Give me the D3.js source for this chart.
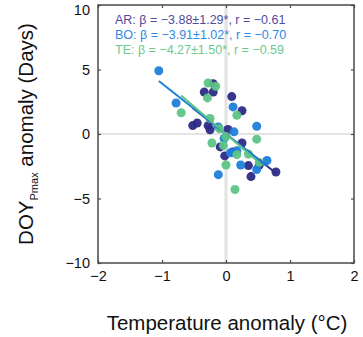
<!DOCTYPE html>
<html>
<head>
<meta charset="utf-8">
<script src="https://cdn.jsdelivr.net/npm/d3@7"></script>
<style>
	body { margin: 0; background: #fff; }
	text { font-family: "Liberation Sans", Arial, sans-serif; }
</style>
</head>
<body>
<svg></svg>
<script>
// series: [temperature anomaly, DOY anomaly]
const arPoints = [[-0.52, 0.65], [-0.45, 0.85], [-0.34, 3.25], [-0.2, 3.25], [-0.2, 3.9], [-0.28, 0.65],
	[-0.25, 0.33], [0.03, 0.35], [0.09, 2.9], [0.25, 1.8], [0.25, -0.7], [-0.02, -1.7], [-0.09, -1.0],
	[0.35, -2.45], [0.52, -2.4], [0.39, -3.3], [0.78, -2.95], [0.1, -1.4]];
const boPoints = [[-1.05, 4.9], [-0.78, 2.4], [0.11, 2.1], [0.125, 0.17], [0.48, 0.6], [-0.03, -0.35],
	[0.07, -1.45], [0.23, -2.4], [0.48, -2.75], [0.64, -2.05], [-0.12, -3.15], [-0.12, 0.55], [0.17, -1.3]];
const tePoints = [[-0.28, 3.95], [-0.16, 3.7], [-0.29, 2.8], [-0.7, 1.65], [-0.25, 1.2], [0.17, 1.45],
	[-0.22, -0.7], [0.48, -0.4], [0.0, -2.4], [0.17, -1.6], [0.35, -1.55], [0.52, -2.2], [0.14, -4.3],
	[-0.04, -0.9], [0.0, -0.2], [-0.1, 0.4]];

const seriesNames = ["AR", "BO", "TE"];
const slopes = [-3.88, -3.91, -4.27];
const slopeErr = ["1.29", "1.02", "1.50"];
const rValues = ["0.61", "0.70", "0.59"];
const colors = ["#2c2a86", "#1d80d9", "#5ec486"];
const textColors = ["#4d4b9c", "#2f88e0", "#6cc98c"];

const xTicks = [-2, -1, 0, 1, 2];
const yTicks = [-10, -5, 0, 5, 10];

const size = { w: 363, h: 337 };
const box = { l: 98, r: 354, t: 5, b: 263 };

const svg = d3.select("svg").attr("width", size.w).attr("height", size.h);

const x = d3.scaleLinear().domain([-2, 2]).range([box.l, box.r]);
const y = d3.scaleLinear().domain([-10, 10]).range([box.b, box.t]);

// zero lines
svg.append("line")
	.attr("x1", x(0)).attr("x2", x(0)).attr("y1", box.t).attr("y2", box.b)
	.attr("stroke", "#e2e2e2").attr("stroke-width", 3);
svg.append("line")
	.attr("x1", box.l).attr("x2", box.r).attr("y1", y(0)).attr("y2", y(0))
	.attr("stroke", "#dadada").attr("stroke-width", 1.5);

// points
const allSeries = [arPoints, boPoints, tePoints];
allSeries.forEach((pts, i) => {
	svg.append("g")
		.selectAll("circle")
		.data(pts)
		.join("circle")
		.attr("cx", (d) => x(d[0]))
		.attr("cy", (d) => y(d[1]))
		.attr("r", 4.5)
		.attr("fill", colors[i])
		.attr("fill-opacity", 0.95);
});

// regression lines (slope from label, through origin) over each series range
allSeries.forEach((pts, i) => {
	const ext = d3.extent(pts, (d) => d[0]);
	svg.append("line")
		.attr("x1", x(ext[0])).attr("y1", y(slopes[i] * ext[0]))
		.attr("x2", x(ext[1])).attr("y2", y(slopes[i] * ext[1]))
		.attr("stroke", colors[i]).attr("stroke-width", 2);
});

// axes box
svg.append("rect")
	.attr("x", box.l).attr("y", box.t)
	.attr("width", box.r - box.l).attr("height", box.b - box.t)
	.attr("fill", "none").attr("stroke", "#4a4a4a").attr("stroke-width", 1.5);

const fmt = (d) => (d < 0 ? "\u2212" + Math.abs(d) : d);
const xAxis = d3.axisBottom(x).tickValues(xTicks).tickSize(-3).tickPadding(8).tickFormat(fmt);
const yAxis = d3.axisLeft(y).tickValues(yTicks).tickSize(-3).tickPadding(8).tickFormat(fmt);

const gx = svg.append("g").attr("transform", `translate(0,${box.b})`).call(xAxis);
const gy = svg.append("g").attr("transform", `translate(${box.l},0)`).call(yAxis);
svg.append("g").attr("transform", `translate(0,${box.t})`)
	.call(d3.axisTop(x).tickValues(xTicks).tickSize(-3).tickFormat(""));
svg.append("g").attr("transform", `translate(${box.r},0)`)
	.call(d3.axisRight(y).tickValues(yTicks).tickSize(-3).tickFormat(""));

svg.selectAll(".domain").remove();
svg.selectAll(".tick line").attr("stroke", "#4a4a4a").attr("stroke-width", 1.2);
[gx, gy].forEach((g) => g.selectAll("text").attr("font-size", 14.5).attr("fill", "#111")
	.attr("font-family", "'Liberation Sans', Arial, sans-serif"));
// keep the top label inside the picture
gy.selectAll("text").filter((d) => d === 10).attr("dy", "0.62em");

// axis titles
svg.append("text")
	.attr("x", (box.l + box.r) / 2 + 1).attr("y", 330)
	.attr("text-anchor", "middle").attr("font-size", 20.5).attr("fill", "#111")
	.text("Temperature anomaly (\u00b0C)");

const yTitle = svg.append("text")
	.attr("transform", `translate(33,${(box.t + box.b) / 2}) rotate(-90)`)
	.attr("text-anchor", "middle").attr("font-size", 20.5).attr("fill", "#111");
yTitle.append("tspan").text("DOY");
yTitle.append("tspan").attr("font-size", 11).attr("dy", 5).text("Pmax");
yTitle.append("tspan").attr("dy", -5).text(" anomaly (Days)");

// stats labels
seriesNames.forEach((name, i) => {
	svg.append("text")
		.attr("x", 115).attr("y", 24 + i * 15)
		.attr("font-size", 12.5).attr("fill", textColors[i])
		.text(`${name}: \u03b2 = \u2212${Math.abs(slopes[i]).toFixed(2)}\u00b1${slopeErr[i]}*, r = \u2212${rValues[i]}`);
});
</script>
</body>
</html>
